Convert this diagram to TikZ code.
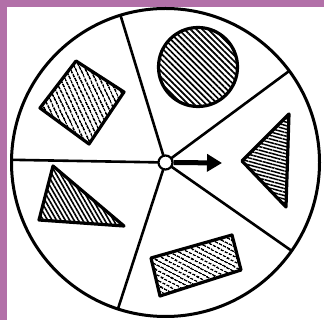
\documentclass[tikz,border=0pt]{standalone}
\usetikzlibrary{arrows.meta,patterns.meta,calc}
\definecolor{bgpurple}{RGB}{178,112,168}
\tikzset{
  rim/.style={line width=3pt},
  spoke/.style={line width=2.6pt},
  shapebox/.style={line width=3.2pt, line join=round},
}
\begin{document}
\begin{tikzpicture}[x=1pt,y=1pt]
  \useasboundingbox (0,0) rectangle (324,-320);
  \fill[bgpurple] (0,0) rectangle (324,-320);
  \fill[white] (7,-7) rectangle (324,-320);
  \coordinate (C) at (165.5,-162.5);
  \coordinate (s1) at ($(C)+(179:154)$);
  \coordinate (s2) at ($(C)+(107:154)$);
  \coordinate (s3) at ($(C)+(36.5:154)$);
  \coordinate (s4) at ($(C)+(-35:154)$);
  \coordinate (s5) at ($(C)+(-108:154)$);
  % spokes
  \foreach \s in {s1,s2,s3,s4,s5} \draw[spoke] (C) -- (\s);
  % rim
  \draw[rim] (C) circle[radius=154];
  % hatched shapes
  \draw[shapebox, pattern={Lines[angle=-45,distance=4.2pt,line width=1.7pt]}]
    (198,-67) circle[radius=39.5];
  \draw[shapebox, pattern={Lines[angle=-65,distance=4pt,line width=1.6pt]}]
    (76,-61) -- (124,-92) -- (89,-144) -- (40,-108) -- cycle;
  \draw[shapebox, pattern={Lines[angle=-60,distance=3.8pt,line width=1.6pt]}]
    (53,-166) -- (124,-226) -- (39,-220) -- cycle;
  \draw[shapebox, pattern={Lines[angle=-15,distance=3.4pt,line width=1.5pt]}]
    (289,-114) -- (286,-207) -- (242,-161) -- cycle;
  \draw[shapebox, pattern={Lines[angle=-28,distance=4pt,line width=1.6pt]}]
    (151,-258) -- (232,-235) -- (241,-270) -- (160,-296) -- cycle;
  % hub and pointer
  \node[circle, draw, line width=2.2pt, fill=white, minimum size=14pt, inner sep=0pt] (hub) at (C) {};
  \coordinate (tip) at (222,-163);
  \draw[line width=5pt, -{Triangle[length=15pt,width=17pt]}] (hub.east) -- (tip);
\end{tikzpicture}
\end{document}
